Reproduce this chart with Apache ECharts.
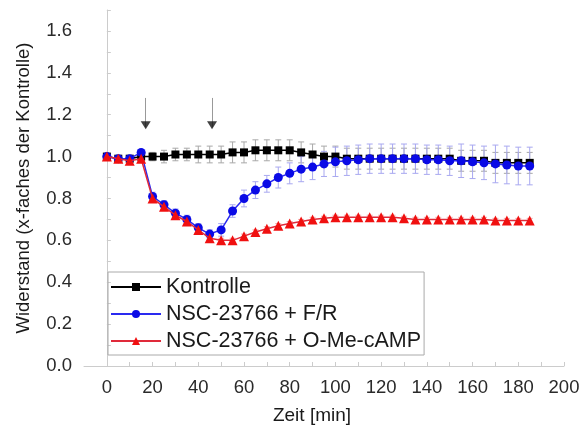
<!DOCTYPE html>
<html>
<head>
<meta charset="utf-8">
<script src="https://cdn.jsdelivr.net/npm/echarts@6/dist/echarts.min.js"></script>
<style>
  html, body { margin: 0; padding: 0; background: #fff; }
  #chart { width: 584px; height: 435px; }
</style>
</head>
<body>
<div id="chart"></div>
<script>
// Zeitpunkte in min
const times = [0, 5, 10, 15, 20, 25, 30, 35, 40, 45, 50, 55, 60, 65, 70, 75, 80, 85, 90, 95,
  100, 105, 110, 115, 120, 125, 130, 135, 140, 145, 150, 155, 160, 165, 170, 175, 180, 185]

const kontrolle = [1.00, 0.99, 0.99, 1.00, 1.00, 1.00, 1.01, 1.01, 1.01, 1.01, 1.01, 1.02, 1.02, 1.03, 1.03, 1.03, 1.03, 1.02, 1.01, 1.00,
  1.00, 0.99, 0.99, 0.99, 0.99, 0.99, 0.99, 0.99, 0.99, 0.99, 0.99, 0.98, 0.98, 0.98, 0.97, 0.97, 0.97, 0.97]
const kontrolleErr = [0.01, 0.01, 0.01, 0.01, 0.02, 0.03, 0.03, 0.03, 0.04, 0.04, 0.04, 0.05, 0.05, 0.05, 0.05, 0.05, 0.05, 0.05, 0.05, 0.05,
  0.05, 0.05, 0.05, 0.05, 0.05, 0.05, 0.05, 0.05, 0.05, 0.05, 0.05, 0.05, 0.05, 0.05, 0.05, 0.05, 0.05, 0.05]

const fr = [1.00, 0.99, 0.99, 1.02, 0.81, 0.77, 0.73, 0.70, 0.66, 0.63, 0.65, 0.74, 0.80, 0.84, 0.87, 0.90, 0.92, 0.94, 0.95, 0.965,
  0.975, 0.98, 0.985, 0.99, 0.99, 0.99, 0.99, 0.99, 0.985, 0.985, 0.98, 0.98, 0.975, 0.97, 0.965, 0.96, 0.955, 0.955]
const frErr = [0.01, 0.01, 0.01, 0.01, 0.02, 0.02, 0.02, 0.02, 0.02, 0.02, 0.03, 0.03, 0.04, 0.04, 0.04, 0.05, 0.05, 0.06, 0.06, 0.06,
  0.07, 0.07, 0.07, 0.07, 0.07, 0.07, 0.07, 0.07, 0.07, 0.07, 0.07, 0.08, 0.08, 0.08, 0.09, 0.09, 0.09, 0.09]

const cAMP = [1.00, 0.99, 0.98, 0.99, 0.80, 0.76, 0.72, 0.69, 0.65, 0.61, 0.60, 0.60, 0.62, 0.64, 0.655, 0.67, 0.68, 0.69, 0.70, 0.705,
  0.71, 0.71, 0.71, 0.71, 0.71, 0.71, 0.705, 0.70, 0.70, 0.70, 0.70, 0.70, 0.70, 0.70, 0.695, 0.695, 0.695, 0.695]
const cAMPErr = [0.01, 0.01, 0.01, 0.01, 0.01, 0.01, 0.01, 0.01, 0.01, 0.01, 0.01, 0.01, 0.01, 0.01, 0.01, 0.01, 0.01, 0.01, 0.01, 0.01,
  0.01, 0.01, 0.01, 0.01, 0.01, 0.01, 0.01, 0.01, 0.01, 0.01, 0.01, 0.01, 0.01, 0.01, 0.01, 0.01, 0.01, 0.01]

const xLabels = [0, 20, 40, 60, 80, 100, 120, 140, 160, 180, 200]
const xTicks = [0, 10, 20, 30, 40, 50, 60, 70, 80, 90, 100, 110, 120, 130, 140, 150, 160, 170, 180, 190, 200]
const yLabels = [0, 0.2, 0.4, 0.6, 0.8, 1.0, 1.2, 1.4, 1.6]
const yTicks = [0, 0.1, 0.2, 0.3, 0.4, 0.5, 0.6, 0.7, 0.8, 0.9, 1.0, 1.1, 1.2, 1.3, 1.4, 1.5, 1.6, 1.7]

// Pfeile: Zugabe der Substanzen
const arrowTimes = [17, 46]
const arrowTop = 1.28
const arrowTip = 1.14

const FONT = '"Liberation Sans", Arial, sans-serif'

function pts(vals, errs) {
  return times.map((t, i) => [t, vals[i], errs[i]])
}

function errorBars(color) {
  return function (params, api) {
    let x = api.value(0), y = api.value(1), e = api.value(2)
    let top = api.coord([x, y + e])
    let bot = api.coord([x, y - e])
    let w = 3
    let st = { stroke: color, lineWidth: 1 }
    return {
      type: 'group',
      children: [
        { type: 'line', shape: { x1: top[0], y1: top[1], x2: bot[0], y2: bot[1] }, style: st },
        { type: 'line', shape: { x1: top[0] - w, y1: top[1], x2: top[0] + w, y2: top[1] }, style: st },
        { type: 'line', shape: { x1: bot[0] - w, y1: bot[1], x2: bot[0] + w, y2: bot[1] }, style: st }
      ]
    }
  }
}

let oChart = echarts.init(document.getElementById('chart'))

let option = {
  backgroundColor: '#fff',
  animation: false,
  textStyle: { fontFamily: FONT },
  grid: { left: 84, right: 20, top: 10, bottom: 69 },
  legend: {
    orient: 'vertical',
    left: 108,
    top: 272,
    data: ['Kontrolle', 'NSC-23766 + F/R', 'NSC-23766 + O-Me-cAMP'],
    itemWidth: 50,
    itemHeight: 10,
    itemGap: 5,
    padding: [4, 3, 3, 2],
    borderColor: '#aaa',
    borderWidth: 1,
    textStyle: { fontSize: 21.5, color: '#1a1a1a', fontFamily: FONT }
  },
  xAxis: {
    type: 'value',
    min: -10,
    max: 200,
    name: 'Zeit [min]',
    nameLocation: 'middle',
    nameGap: 40,
    nameTextStyle: { fontSize: 19, color: '#1a1a1a', padding: [0, 24, 0, 0] },
    splitLine: { show: false },
    axisLine: { onZero: false, lineStyle: { color: '#ccc' } },
    axisTick: { inside: true, length: 4, customValues: xTicks, lineStyle: { color: '#ccc' } },
    axisLabel: { customValues: xLabels, fontSize: 18.5, color: '#2a2a2a', margin: 12 }
  },
  yAxis: {
    type: 'value',
    min: 0,
    max: 1.7,
    name: 'Widerstand (x-faches der Kontrolle)',
    nameLocation: 'middle',
    nameGap: 51,
    nameTextStyle: { fontSize: 18.5, color: '#1a1a1a' },
    splitLine: { show: false },
    axisLine: { show: true, lineStyle: { color: '#ccc' } },
    axisTick: { show: true, inside: true, length: 4, customValues: yTicks, lineStyle: { color: '#ccc' } },
    axisLabel: { customValues: yLabels, fontSize: 18.5, color: '#2a2a2a', margin: 12,
      formatter: v => v.toFixed(1) }
  },
  series: [
    {
      type: 'custom', name: 'errK', silent: true, z: 1,
      renderItem: errorBars('#a8a8a8'),
      encode: { x: 0, y: 1 },
      data: pts(kontrolle, kontrolleErr)
    },
    {
      type: 'custom', name: 'errFR', silent: true, z: 1,
      renderItem: errorBars('#a8a8f0'),
      encode: { x: 0, y: 1 },
      data: pts(fr, frErr)
    },
    {
      type: 'custom', name: 'errC', silent: true, z: 1,
      renderItem: errorBars('#f4a8a8'),
      encode: { x: 0, y: 1 },
      data: pts(cAMP, cAMPErr)
    },
    {
      name: 'Kontrolle', type: 'line', z: 3,
      data: times.map((t, i) => [t, kontrolle[i]]),
      symbol: 'rect', symbolSize: 8,
      itemStyle: { color: '#000' },
      lineStyle: { color: '#000', width: 1.5 }
    },
    {
      name: 'NSC-23766 + F/R', type: 'line', z: 4,
      data: times.map((t, i) => [t, fr[i]]),
      symbol: 'circle', symbolSize: 9,
      itemStyle: { color: '#0a0ae6' },
      lineStyle: { color: '#2a2af0', width: 1.5 }
    },
    {
      name: 'NSC-23766 + O-Me-cAMP', type: 'line', z: 5,
      data: times.map((t, i) => [t, cAMP[i]]),
      symbol: 'triangle', symbolSize: 10,
      itemStyle: { color: '#f01010' },
      lineStyle: { color: '#e02a3a', width: 1.5 },
      markLine: {
        silent: true,
        symbol: ['none', 'none'],
        label: { show: false },
        lineStyle: { color: '#999', width: 1, type: 'solid' },
        data: arrowTimes.map(t => [{ coord: [t, arrowTop] }, { coord: [t, arrowTip] }])
      }
    },
    {
      type: 'scatter', name: 'pfeile', silent: true, z: 6,
      symbol: 'triangle', symbolRotate: 180, symbolSize: [10, 8],
      itemStyle: { color: '#111' },
      data: arrowTimes.map(t => [t, arrowTip + 0.01])
    }
  ]
}

oChart.setOption(option)
</script>
</body>
</html>
